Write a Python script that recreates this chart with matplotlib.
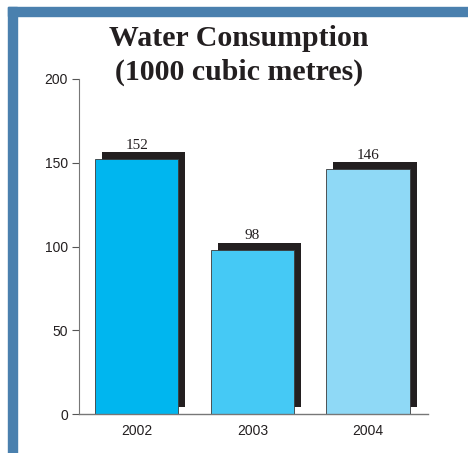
import matplotlib
matplotlib.use("Agg")
from matplotlib import pyplot as plt
from matplotlib.transforms import offset_copy
from matplotlib.patches import Rectangle

years = ["2002", "2003", "2004"]
consumption = [152, 98, 146]
bar_colors = ["#00b6ef", "#45c9f5", "#8fd9f6"]
y_ticks = [0, 50, 100, 150, 200]

fig = plt.figure(figsize=(4.68, 4.53), dpi=100)

# blue frame along top and left edges
fig.patches.append(Rectangle((8 / 468, 0), 9 / 468, 1 - 7 / 453, transform=fig.transFigure,
                             color="#4a80ae", zorder=0))
fig.patches.append(Rectangle((8 / 468, 1 - 16 / 453), 1, 9 / 453, transform=fig.transFigure,
                             color="#4a80ae", zorder=0))

ax = fig.add_axes([79 / 468, 1 - 414 / 453, 349 / 468, 335 / 453])
x = range(len(years))

# dark drop shadow shifted up and right
shadow = offset_copy(ax.transData, fig=fig, x=7, y=7, units="dots")
ax.bar(x, consumption, width=0.72, color="#231f20", transform=shadow, zorder=1)
ax.bar(x, consumption, width=0.72, color=bar_colors, edgecolor="#3a3a3a", linewidth=0.6, zorder=2)

for i, v in enumerate(consumption):
    ax.annotate(str(v), (i, v), xytext=(0, 7.5), textcoords="offset points", ha="center",
                va="baseline", fontsize=11, family="Liberation Serif", color="#231f20")

ax.set_xlim(-0.5, 2.52)
ax.set_ylim(0, 200)
ax.set_xticks(list(x))
ax.set_xticklabels(years)
ax.set_yticks(y_ticks)
ax.tick_params(axis="x", length=0, pad=7, labelsize=10, labelcolor="#231f20")
ax.tick_params(axis="y", length=5, width=0.8, color="#555555", pad=3, labelsize=10, labelcolor="#231f20")
for t in ax.get_xticklabels() + ax.get_yticklabels():
    t.set_family("Liberation Sans")
ax.spines["top"].set_visible(False)
ax.spines["right"].set_visible(False)
ax.spines["left"].set_color("#777777")
ax.spines["bottom"].set_color("#777777")
ax.spines["left"].set_linewidth(0.8)
ax.spines["bottom"].set_linewidth(1.0)

fig.text(239 / 468, 1 - 80 / 453, "Water Consumption\n(1000 cubic metres)", ha="center", va="baseline",
         fontsize=21.5, fontweight="bold", family="Liberation Serif", color="#231f20", linespacing=1.35)

fig.savefig("out.png", dpi=100)
